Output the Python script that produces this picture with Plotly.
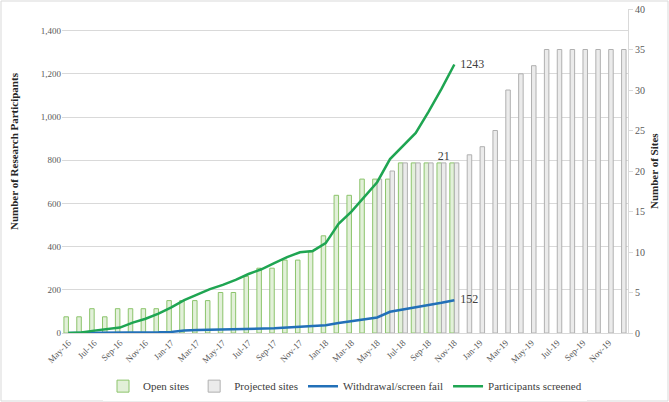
import plotly.graph_objects as go

months = ["May-16", "Jun-16", "Jul-16", "Aug-16", "Sep-16", "Oct-16", "Nov-16", "Dec-16",
          "Jan-17", "Feb-17", "Mar-17", "Apr-17", "May-17", "Jun-17", "Jul-17", "Aug-17",
          "Sep-17", "Oct-17", "Nov-17", "Dec-17",
          "Jan-18", "Feb-18", "Mar-18", "Apr-18", "May-18", "Jun-18", "Jul-18", "Aug-18",
          "Sep-18", "Oct-18", "Nov-18", "Dec-18",
          "Jan-19", "Feb-19", "Mar-19", "Apr-19", "May-19", "Jun-19", "Jul-19", "Aug-19",
          "Sep-19", "Oct-19", "Nov-19", "Dec-19"]

# number of sites (right axis)
open_sites = [2, 2, 3, 2, 3, 3, 3, 3, 4, 4, 4, 4, 5, 5, 7, 8, 8, 9, 9, 10,
              12, 17, 17, 19, 19, 19, 21, 21, 21, 21, 21]
projected_sites = [None] * 24 + [19, 20, 21, 21, 21, 21, 21, 22, 23, 25, 30, 32, 33,
                                 35, 35, 35, 35, 35, 35, 35]

# research participants (left axis)
screened = [0, 2, 11, 17, 25, 48, 66, 90, 119, 152, 178, 203, 223, 246, 273, 295,
            323, 351, 374, 380, 416, 505, 562, 628, 698, 805, 868, 926, 1025, 1130, 1243]
withdrawn = [0, 0, 1, 1, 2, 2, 3, 3, 5, 12, 14, 15, 16, 17, 18, 19,
             22, 25, 29, 32, 36, 46, 55, 63, 72, 98, 108, 118, 130, 140, 152]

serif = "Liberation Serif, Times New Roman, serif"

def end_label(vals):
    # leading spaces push the label a little clear of the line end
    return [""] * (len(vals) - 1) + ["  " + str(vals[-1])]

proj_text = ["" for v in projected_sites]
proj_text[months.index("Oct-18")] = "21"

fig = go.Figure()
fig.add_trace(go.Bar(x=months[:len(open_sites)], y=open_sites, name="Open sites",
                     marker=dict(color="#e2f0d9", line=dict(color="#8cc46c", width=1)),
                     yaxis="y"))
fig.add_trace(go.Bar(x=months, y=projected_sites, name="Projected sites",
                     marker=dict(color="#ebebeb", line=dict(color="#b0b0b0", width=1)),
                     text=proj_text, textposition="outside", constraintext="none",
                     textfont=dict(family=serif, size=12, color="#404040"),
                     cliponaxis=False, yaxis="y"))
fig.add_trace(go.Scatter(x=months[:len(withdrawn)], y=withdrawn, name="Withdrawal/screen fail",
                         mode="lines+text", text=end_label(withdrawn),
                         textposition="middle right",
                         textfont=dict(family=serif, size=12, color="#404040"),
                         line=dict(color="#2270b8", width=2.5), yaxis="y2", cliponaxis=False))
fig.add_trace(go.Scatter(x=months[:len(screened)], y=screened, name="Participants screened",
                         mode="lines+text", text=end_label(screened),
                         textposition="middle right",
                         textfont=dict(family=serif, size=12, color="#404040"),
                         line=dict(color="#1fa552", width=2.5), yaxis="y2", cliponaxis=False))

title_font = dict(family=serif, size=11, color="#262626")

fig.update_layout(
    width=669, height=402,
    margin=dict(l=62, r=41, t=9, b=69, autoexpand=False),
    paper_bgcolor="white", plot_bgcolor="white",
    barmode="group", bargap=0.3, bargroupgap=0,
    font=dict(family=serif, size=11, color="#595959"),
    xaxis=dict(type="category", categoryorder="array", categoryarray=months,
               range=[-0.5, len(months) - 0.5],
               tickvals=months[::2], tickangle=-45, tickfont=dict(size=9, color="#595959"),
               showline=True, linecolor="#d9d9d9", showgrid=False, ticks=""),
    yaxis=dict(side="right", range=[0, 40], dtick=5, showgrid=False, zeroline=False,
               showline=True, linecolor="#d9d9d9", ticks="outside", ticklen=4,
               tickcolor="#d9d9d9", tickfont=dict(size=10, color="#595959")),
    yaxis2=dict(overlaying="y", side="left", range=[0, 1500],
                tickvals=list(range(0, 1401, 200)), tickformat=",",
                showgrid=True, gridcolor="#d9d9d9", zeroline=False,
                tickfont=dict(size=9, color="#595959")),
    legend=dict(orientation="h", x=0.5, xanchor="center", y=-0.164, yanchor="middle",
                font=dict(family=serif, size=11, color="#404040"),
                itemwidth=30, traceorder="normal"),
    annotations=[
        dict(text="<b>Number of Research Participants</b>", xref="paper", yref="paper",
             x=-56 / 566, y=101 / 324, textangle=-90, showarrow=False, font=title_font),
        dict(text="<b>Number of Sites</b>", xref="paper", yref="paper",
             x=1 + 34 / 566, y=162 / 324, textangle=-90, showarrow=False, font=title_font),
    ],
    shapes=[dict(type="rect", xref="paper", yref="paper",
                 x0=-61 / 566, x1=1 + 40 / 566, y0=-68 / 324, y1=1 + 8 / 324,
                 line=dict(color="#d9d9d9", width=1), layer="below")],
)

# the page body has a default 8px margin; drop it so the figure sits at the corner
fig.write_html("out.html", config={"displayModeBar": False},
               post_script="document.body.style.margin = '0';")
